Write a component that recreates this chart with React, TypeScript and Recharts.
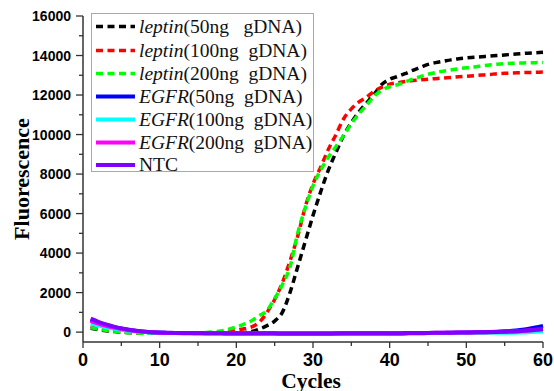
import { LineChart, Line, XAxis, YAxis } from "recharts";

const cycles = [
  1, 2, 3, 4, 5, 6, 7, 8, 9, 10, 11, 12, 13, 14, 15, 16, 17, 18, 19, 20,
  21, 22, 23, 24, 25, 26, 27, 28, 29, 30, 31, 32, 33, 34, 35, 36, 37, 38, 39, 40,
  41, 42, 43, 44, 45, 46, 47, 48, 49, 50, 51, 52, 53, 54, 55, 56, 57, 58, 59, 60,
];

// leptin, 50ng gDNA
const leptin50 = [
  200, 130, 70, 30, 0, -20, -35, -45, -50, -50, -50, -50, -50, -50, -48, -46, -45, -44, -42, -40,
  -20, 30, 150, 330, 560, 1000, 2000, 3300, 4600, 5900, 7100, 8200, 9100, 9950, 10600, 11150, 11600, 12050, 12550, 12800,
  12930, 13080, 13250, 13400, 13550, 13640, 13710, 13780, 13840, 13880, 13910, 13940, 13970, 14000, 14030, 14060, 14090, 14120, 14140, 14160,
];

// leptin, 100ng gDNA
const leptin100 = [
  300, 200, 120, 60, 10, -20, -40, -50, -55, -55, -55, -55, -50, -50, -45, -40, -30, -10, 30, 90,
  170, 260, 500, 1000, 1650, 2500, 3600, 4850, 6350, 7500, 8350, 9250, 10000, 10800, 11300, 11650, 11900, 12200, 12400, 12550,
  12620, 12680, 12730, 12770, 12800, 12830, 12860, 12890, 12920, 12950, 12980, 13010, 13040, 13080, 13100, 13120, 13130, 13140, 13150, 13160,
];

// leptin, 200ng gDNA
const leptin200 = [
  220, 150, 90, 40, 0, -30, -50, -60, -60, -60, -55, -50, -45, -40, -30, -20, 10, 60, 150, 260,
  400, 580, 830, 1100, 1700, 2400, 3300, 5000, 6300, 7400, 8200, 8850, 9400, 9950, 10550, 11050, 11500, 11950, 12250, 12420,
  12520, 12650, 12800, 12930, 13050, 13140, 13210, 13270, 13330, 13380, 13420, 13470, 13520, 13560, 13590, 13610, 13620, 13630, 13640, 13650,
];

// EGFR, 50ng gDNA
const egfr50 = [
  620, 480, 360, 260, 180, 110, 60, 20, -10, -30, -40, -50, -55, -55, -60, -60, -60, -62, -65, -65,
  -65, -68, -70, -70, -72, -72, -75, -75, -75, -75, -75, -75, -75, -75, -72, -72, -72, -70, -70, -70,
  -70, -65, -60, -55, -50, -45, -40, -35, -30, -25, -15, -5, 5, 20, 40, 70, 110, 160, 230, 320,
];

// EGFR, 100ng gDNA
const egfr100 = [
  420, 330, 250, 180, 120, 70, 30, 0, -20, -35, -40, -42, -45, -45, -48, -48, -50, -50, -50, -50,
  -50, -52, -52, -52, -55, -55, -55, -55, -55, -55, -55, -55, -55, -55, -55, -55, -52, -52, -52, -50,
  -50, -50, -48, -48, -45, -45, -42, -40, -40, -38, -36, -34, -32, -30, -30, -30, -20, -5, 20, 50,
];

// EGFR, 200ng gDNA
const egfr200 = [
  560, 430, 320, 230, 160, 100, 50, 15, -10, -30, -40, -45, -50, -50, -55, -55, -55, -58, -58, -60,
  -60, -60, -62, -62, -62, -65, -65, -65, -65, -65, -65, -65, -65, -62, -62, -62, -60, -60, -58, -55,
  -55, -50, -48, -45, -40, -38, -35, -30, -25, -20, -15, -10, -5, 5, 15, 30, 50, 80, 110, 150,
];

// no template control
const ntc = [
  680, 520, 390, 280, 190, 120, 65, 25, -5, -25, -35, -40, -45, -50, -50, -52, -55, -55, -58, -58,
  -60, -60, -62, -62, -62, -65, -65, -65, -65, -65, -65, -65, -62, -62, -62, -60, -60, -58, -55, -55,
  -52, -50, -48, -45, -40, -36, -32, -28, -22, -18, -12, -8, 0, 10, 20, 35, 55, 85, 120, 160,
];

const xTicks = [0, 5, 10, 15, 20, 25, 30, 35, 40, 45, 50, 55, 60];
const yTicks = [
  0, 1000, 2000, 3000, 4000, 5000, 6000, 7000, 8000, 9000, 10000, 11000, 12000, 13000, 14000, 15000, 16000,
];

const seriesKeys = ["leptin50", "leptin100", "leptin200", "egfr50", "egfr100", "egfr200", "ntc"];
const seriesGene = ["leptin", "leptin", "leptin", "EGFR", "EGFR", "EGFR", ""];
const seriesRest = ["(50ng   gDNA)", "(100ng  gDNA)", "(200ng  gDNA)", "(50ng  gDNA)", "(100ng  gDNA)", "(200ng  gDNA)", "NTC"];
const seriesColors = ["#000000", "#ff0000", "#00ff00", "#0000ff", "#00ffff", "#ff00ff", "#7f00ff"];
const seriesDashed = [true, true, true, false, false, false, false];

const chartData = cycles.map((c, i) => ({
  cycle: c,
  leptin50: leptin50[i],
  leptin100: leptin100[i],
  leptin200: leptin200[i],
  egfr50: egfr50[i],
  egfr100: egfr100[i],
  egfr200: egfr200[i],
  ntc: ntc[i],
}));

const AXIS = "#333333";
const SANS = "'Liberation Sans', Arial, sans-serif";
const SERIF = "'Liberation Serif', 'Times New Roman', serif";

function XTick(props: any) {
  const { x, y, payload } = props;
  const major = payload.value % 10 === 0;
  return (
    <g>
      <line x1={x} x2={x} y1={y} y2={y + (major ? 6 : 4)} stroke={AXIS} strokeWidth={1.3} />
      {major && (
        <text x={x} y={y + 24} textAnchor="middle" fontFamily={SANS} fontWeight="bold" fontSize={18} fill="#000">
          {payload.value}
        </text>
      )}
    </g>
  );
}

function YTick(props: any) {
  const { x, y, payload } = props;
  const major = payload.value % 2000 === 0;
  return (
    <g>
      <line x1={x} x2={x - (major ? 7 : 4)} y1={y} y2={y} stroke={AXIS} strokeWidth={1.3} />
      {major && (
        <text x={x - 12} y={y + 5} textAnchor="end" fontFamily={SANS} fontWeight="bold" fontSize={14} fill="#000">
          {payload.value}
        </text>
      )}
    </g>
  );
}

function ChartLegend() {
  const rowY = [13.5, 37.5, 60.5, 83.5, 106.5, 129.5, 152];
  return (
    <svg
      width={224}
      height={166}
      style={{ position: "absolute", left: 91, top: 13, overflow: "visible" }}
    >
      <rect x={0.5} y={0.5} width={222} height={158} fill="#fff" stroke="#a8a8a8" strokeWidth={1} />
      {seriesKeys.map((k, i) => (
        <g key={k}>
          <line
            x1={5}
            x2={44}
            y1={rowY[i]}
            y2={rowY[i]}
            stroke={seriesColors[i]}
            strokeWidth={seriesDashed[i] ? 3.5 : 4}
            strokeDasharray={seriesDashed[i] ? "7 4.5" : undefined}
          />
          <text
            x={48}
            y={rowY[i] + 6}
            fontFamily={SERIF}
            fontSize={19.5}
            fill="#111"
            style={{ whiteSpace: "pre" }}
          >
            {seriesGene[i] && <tspan fontStyle="italic">{seriesGene[i]}</tspan>}
            <tspan>{seriesRest[i]}</tspan>
          </text>
        </g>
      ))}
    </svg>
  );
}

export default function App() {
  return (
    <div style={{ position: "absolute", left: 0, top: 0, width: 554, height: 391, background: "#fff" }}>
      <LineChart
        width={554}
        height={391}
        data={chartData}
        margin={{ top: 16, right: 11, left: 0, bottom: 0 }}
      >
        <XAxis
          dataKey="cycle"
          type="number"
          domain={[0, 60]}
          ticks={xTicks}
          interval={0}
          height={49}
          tickSize={0}
          tickMargin={0}
          tickLine={false}
          tick={<XTick />}
          axisLine={{ stroke: AXIS, strokeWidth: 1.5 }}
          label={{
            content: () => (
              <text x={311} y={387.5} textAnchor="middle" fontFamily={SERIF} fontWeight="bold" fontSize={21.5} fill="#000">
                Cycles
              </text>
            ),
          }}
        />
        <YAxis
          type="number"
          domain={[-500, 16000]}
          ticks={yTicks}
          interval={0}
          width={83}
          tickSize={0}
          tickMargin={0}
          tickLine={false}
          tick={<YTick />}
          axisLine={{ stroke: AXIS, strokeWidth: 1.5 }}
          label={{
            content: () => (
              <text
                x={0}
                y={0}
                transform="translate(29 179) rotate(-90)"
                textAnchor="middle"
                fontFamily={SERIF}
                fontWeight="bold"
                fontSize={22}
                fill="#000"
              >
                Fluorescence
              </text>
            ),
          }}
        />
        {seriesKeys.map((k, i) => (
          <Line
            key={k}
            type="monotone"
            dataKey={k}
            stroke={seriesColors[i]}
            strokeWidth={seriesDashed[i] ? 3.5 : 4}
            strokeDasharray={seriesDashed[i] ? "7 4.5" : undefined}
            dot={false}
            activeDot={false}
            isAnimationActive={false}
          />
        ))}
      </LineChart>
      <ChartLegend />
    </div>
  );
}
